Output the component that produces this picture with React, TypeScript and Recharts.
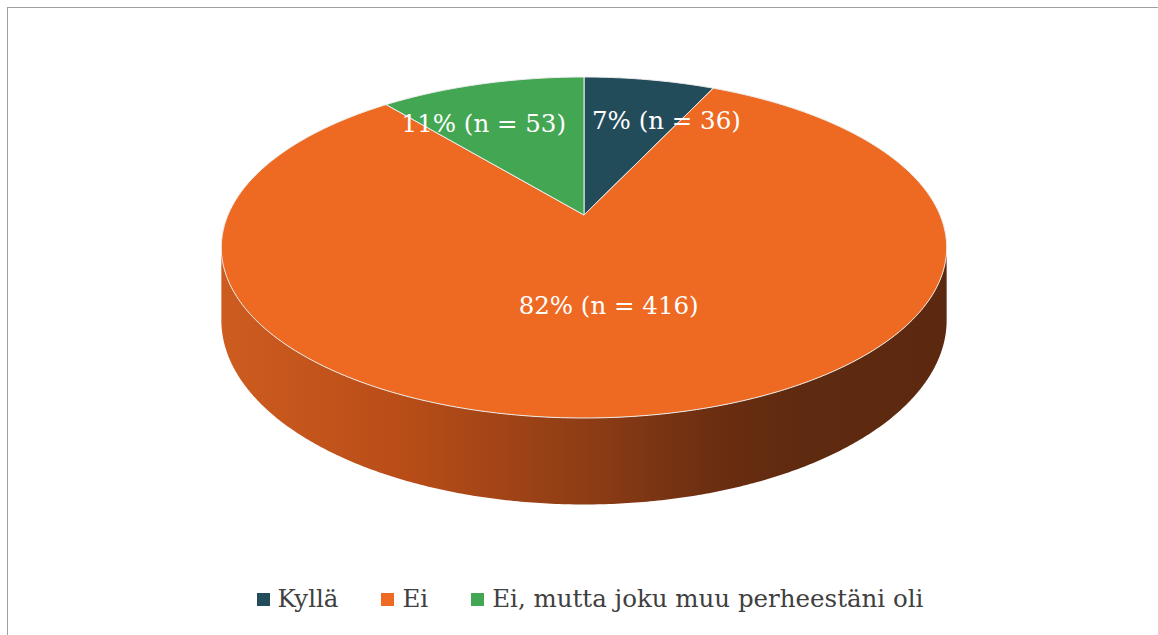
import React from 'react';
import { PieChart, Pie, Legend } from 'recharts';

const categories = ['Kyllä', 'Ei', 'Ei, mutta joku muu perheestäni oli'];
const percentages = [7, 82, 11];
const counts = [36, 416, 53];
const sliceColors = ['#234C5A', '#EE6A22', '#43A653'];

const data = categories.map((name, i) => ({ name, value: percentages[i] }));

const WIDTH = 1150;
const HEIGHT = 627;
const CX = 576;
const CY = 207;
const R = 356;
const TILT = 0.4615;
const PERSP = 0.1906;
const DEPTH = 70;
const FONT = '"DejaVu Serif", serif';
const DEG = Math.PI / 180;
const SIDE_FROM = -180 + Math.asin(PERSP) / DEG;
const SIDE_TO = -Math.asin(PERSP) / DEG;

function project(cx: number, cy: number, r: number, angle: number, f: number) {
  const u = f * Math.cos(angle * DEG);
  const v = f * Math.sin(angle * DEG);
  const s = 1 + PERSP * v;
  return { x: cx + (r * u) / s, y: cy - (r * TILT * v) / s, s };
}

function arcPoints(cx: number, cy: number, r: number, a1: number, a2: number) {
  const n = Math.max(2, Math.ceil(Math.abs(a2 - a1) * 2));
  const pts: { x: number; y: number; s: number }[] = [];
  for (let i = 0; i <= n; i++) {
    const a = a1 + ((a2 - a1) * i) / n;
    pts.push(project(cx, cy, r, a, 1));
  }
  return pts;
}

const toPath = (pts: { x: number; y: number }[]) =>
  pts.map((p, i) => `${i === 0 ? 'M' : 'L'}${p.x.toFixed(2)},${p.y.toFixed(2)}`).join(' ');

const renderFace = (props: any) => {
  const { cx, cy, outerRadius, startAngle, endAngle, index } = props;
  const fill = sliceColors[index];
  const lo = Math.max(Math.min(startAngle, endAngle), SIDE_FROM);
  const hi = Math.min(Math.max(startAngle, endAngle), SIDE_TO);
  let side: React.ReactNode = null;
  if (hi > lo) {
    const top = arcPoints(cx, cy, outerRadius, hi, lo);
    const bottom = top
      .slice()
      .reverse()
      .map((p) => ({ x: p.x, y: p.y + DEPTH / p.s }));
    const gid = `sideGrad${index}`;
    side = (
      <g>
        <defs>
          <linearGradient
            id={gid}
            gradientUnits="userSpaceOnUse"
            x1={cx - outerRadius * 1.02}
            y1={0}
            x2={cx + outerRadius * 1.02}
            y2={0}
          >
            <stop offset="0" stopColor="#CD5C1F" />
            <stop offset="0.25" stopColor="#B94D18" />
            <stop offset="0.5" stopColor="#8E3D15" />
            <stop offset="0.68" stopColor="#6B2E11" />
            <stop offset="0.8" stopColor="#5E2A10" />
            <stop offset="1" stopColor="#5C2910" />
          </linearGradient>
        </defs>
        <path d={toPath([...top, ...bottom]) + ' Z'} fill={`url(#${gid})`} stroke="none" />
      </g>
    );
  }
  const arc = arcPoints(cx, cy, outerRadius, startAngle, endAngle);
  const d = toPath([{ x: cx, y: cy }, ...arc]) + ' Z';
  return (
    <g key={`face-${index}`}>
      {side}
      <path d={d} fill={fill} stroke="#EDEDED" strokeWidth={1} strokeLinejoin="round" />
    </g>
  );
};

const renderText = (props: any) => {
  const { cx, cy, outerRadius, startAngle, endAngle, index, percent } = props;
  const mid = (startAngle + endAngle) / 2;
  const small = percent < 0.15;
  const p = project(cx, cy, outerRadius, mid, small ? 0.66 : 0.5);
  let x = p.x;
  let anchor: 'start' | 'middle' | 'end' = 'middle';
  if (small) {
    const right = Math.cos(mid * DEG) > 0;
    anchor = right ? 'start' : 'end';
    x = cx + (right ? 8 : -18);
  }
  return (
    <text
      key={`lbl-${index}`}
      x={x}
      y={p.y}
      textAnchor={anchor}
      dominantBaseline="central"
      fill="#FFFFFF"
      fontFamily={FONT}
      fontSize={24.5}
    >
      {`${percentages[index]}% (n = ${counts[index]})`}
    </text>
  );
};

const renderLegend = () => (
  <div
    style={{
      display: 'flex',
      justifyContent: 'center',
      alignItems: 'center',
      fontFamily: FONT,
      fontSize: 24.5,
      lineHeight: '28px',
      color: '#404040',
      whiteSpace: 'nowrap',
    }}
  >
    {categories.map((c, i) => (
      <span
        key={c}
        style={{ display: 'inline-flex', alignItems: 'center', marginLeft: i ? 43 : 0 }}
      >
        <span
          style={{
            display: 'inline-block',
            width: 13,
            height: 13,
            background: sliceColors[i],
            marginRight: 8,
          }}
        />
        <span>{c}</span>
      </span>
    ))}
  </div>
);

export default function App() {
  return (
    <div
      style={{
        position: 'absolute',
        left: 7,
        top: 7,
        width: WIDTH + 10,
        height: HEIGHT + 10,
        boxSizing: 'border-box',
        border: '1px solid #A0A0A0',
        background: '#FFFFFF',
      }}
    >
      <PieChart width={WIDTH} height={HEIGHT} margin={{ top: 0, right: 0, bottom: 0, left: 0 }}>
        <Pie
          data={data}
          dataKey="value"
          nameKey="name"
          cx={CX}
          cy={CY}
          outerRadius={R}
          startAngle={90}
          endAngle={-270}
          fill="transparent"
          stroke="none"
          label={renderFace}
          labelLine={false}
          legendType="none"
          isAnimationActive={false}
        />
        <Pie
          data={data}
          dataKey="value"
          nameKey="name"
          cx={CX}
          cy={CY}
          outerRadius={R}
          startAngle={90}
          endAngle={-270}
          fill="transparent"
          stroke="none"
          label={renderText}
          labelLine={false}
          legendType="none"
          isAnimationActive={false}
        />
        <Legend
          verticalAlign="bottom"
          content={renderLegend}
          wrapperStyle={{ top: 577, left: 7, width: WIDTH, height: 28, bottom: 'auto' }}
        />
      </PieChart>
    </div>
  );
}
